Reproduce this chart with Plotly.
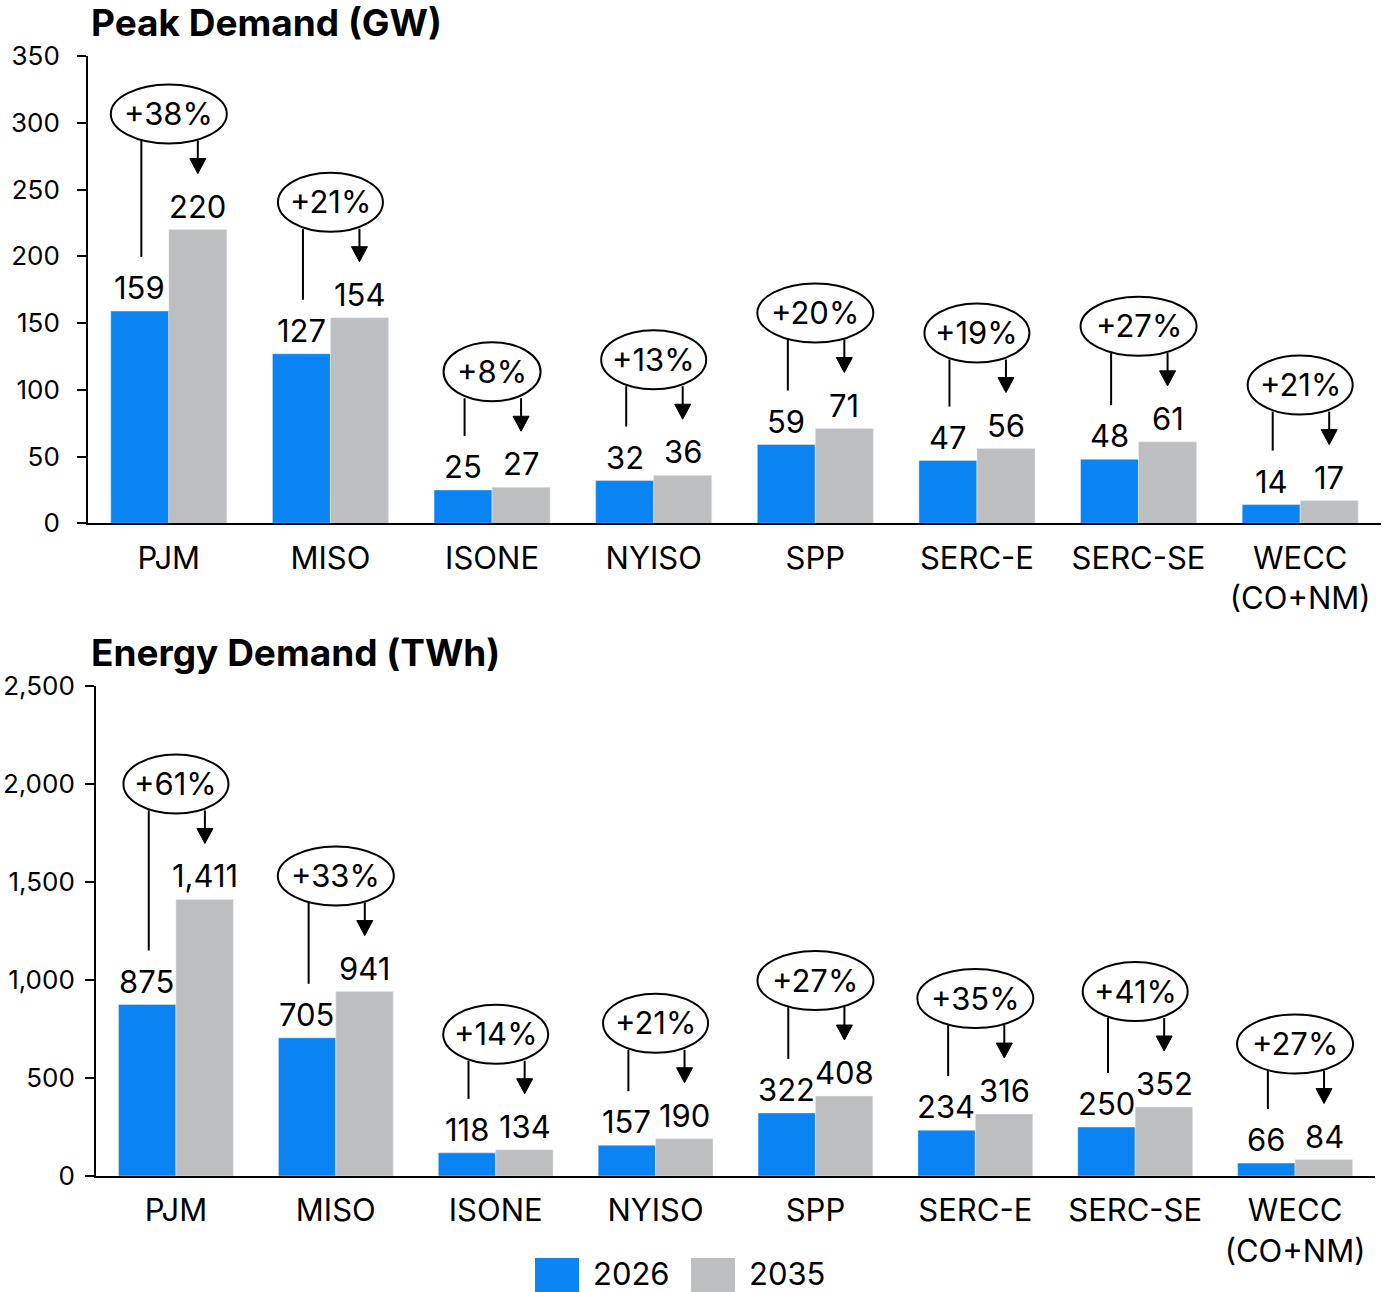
import plotly.graph_objects as go

# ---------------- data ----------------
regions = ["PJM", "MISO", "ISONE", "NYISO", "SPP", "SERC-E", "SERC-SE", "WECC<br>(CO+NM)"]

peak_2026 = [159, 127, 25, 32, 59, 47, 48, 14]
peak_2035 = [220, 154, 27, 36, 71, 56, 61, 17]
peak_growth = ["+38%", "+21%", "+8%", "+13%", "+20%", "+19%", "+27%", "+21%"]

energy_2026 = [875, 705, 118, 157, 322, 234, 250, 66]
energy_2035 = [1411, 941, 134, 190, 408, 316, 352, 84]
energy_growth = ["+61%", "+33%", "+14%", "+21%", "+27%", "+35%", "+41%", "+27%"]

years = ["2026", "2035"]

# ---------------- styling ----------------
W, H = 1384, 1292
BLUE = "#0A84F2"
GREY = "#BDBEC0"
FONT = "Inter"
LBL = 31


def px(x):
    return x / W


def py(y):
    return 1 - y / H


# panel geometry (pixels)
top = dict(x0=88, x1=1381, y0=56, y1=523.3, rng=350, dt=50, bargap=0.282, standoff=12)
bot = dict(x0=96, x1=1375, y0=686, y1=1176, rng=2500, dt=500, bargap=0.275, standoff=5)

fig = go.Figure()

panels = [
    (top, peak_2026, peak_2035, peak_growth, "x", "y", "Peak Demand (GW)"),
    (bot, energy_2026, energy_2035, energy_growth, "x2", "y2", "Energy Demand (TWh)"),
]

shapes = []
annotations = []


def ellipse_width(t):
    widths = {"+": 19, "%": 27, "1": 8}
    return 32 + sum(widths.get(c, 19) for c in t)


LINE = dict(color="black", width=2)

for p, v26, v35, growth, xa, ya, title in panels:
    fig.add_trace(go.Bar(x=regions, y=v26, name=years[0], marker_color=BLUE,
                         xaxis=xa, yaxis=ya, showlegend=False))
    fig.add_trace(go.Bar(x=regions, y=v35, name=years[1], marker_color=GREY,
                         xaxis=xa, yaxis=ya, showlegend=False))
    k = (p["y1"] - p["y0"]) / p["rng"]  # px per unit
    off = (1 - p["bargap"]) / 4
    for i in range(len(regions)):
        a, b = v26[i], v35[i]
        # value labels
        for val, dx in ((a, -off), (b, off)):
            annotations.append(dict(x=i + dx, y=val, xref=xa, yref=ya, text=f"{val:,}",
                                    showarrow=False, yanchor="bottom", yshift=3,
                                    font=dict(family=FONT, size=LBL, color="black")))
        # ellipse
        w = ellipse_width(growth[i])
        shapes.append(dict(type="circle", xref=xa, yref=ya, xsizemode="pixel", ysizemode="pixel",
                           xanchor=i, yanchor=b, x0=-w / 2, x1=w / 2, y0=86, y1=145,
                           line=LINE, fillcolor="white", layer="above"))
        annotations.append(dict(x=i, y=b, xref=xa, yref=ya, text=growth[i], showarrow=False,
                                yanchor="middle", yshift=116,
                                font=dict(family=FONT, size=LBL, color="black")))
        # left line
        shapes.append(dict(type="line", xref=xa, yref=ya, x0=i - 0.17, x1=i - 0.17,
                           y0=a + 54 / k, y1=b + 89 / k, line=LINE, layer="below"))
        # arrow to 2035 value: shaft + head
        shapes.append(dict(type="line", xref=xa, yref=ya, x0=i + off, x1=i + off,
                           y0=b + 70 / k, y1=b + 89 / k, line=LINE, layer="below"))
        shapes.append(dict(type="path", xref=xa, yref=ya, xsizemode="pixel", ysizemode="pixel",
                           xanchor=i + off, yanchor=b, path="M -8 71 L 8 71 L 0 56 Z",
                           fillcolor="black", line=dict(color="black", width=1)))
    # title
    annotations.append(dict(x=px(89), y=py(p["y0"] - 33), xref="paper", yref="paper",
                            text="<b>" + title + "</b>", showarrow=False,
                            xanchor="left", yanchor="middle",
                            font=dict(family=FONT, size=37, color="black")))

# legend drawn manually
for x0, col, lab in ((535, BLUE, years[0]), (691, GREY, years[1])):
    shapes.append(dict(type="rect", xref="paper", yref="paper", x0=px(x0), x1=px(x0 + 44),
                       y0=py(1292), y1=py(1258), fillcolor=col, line=dict(width=0)))
    annotations.append(dict(x=px(x0 + 56), y=py(1273), xref="paper", yref="paper", text=lab,
                            showarrow=False, xanchor="left", yanchor="middle",
                            font=dict(family=FONT, size=31, color="black")))


def xaxis(p, anchor):
    return dict(domain=[px(p["x0"]), px(p["x1"])], anchor=anchor, type="category",
                showline=True, linecolor="black", linewidth=2, ticks="", showgrid=False,
                tickfont=dict(family=FONT, size=31, color="black"), ticklabelstandoff=6,
                zeroline=False, automargin=False)


def yaxis(p, anchor, fmt):
    return dict(domain=[py(p["y1"]), py(p["y0"])], anchor=anchor, range=[0, p["rng"]],
                dtick=p["dt"], tick0=0, showline=True, linecolor="black", linewidth=2,
                ticks="outside", ticklen=9, tickwidth=2, tickcolor="black", showgrid=False,
                zeroline=False, tickformat=fmt, ticklabelstandoff=p["standoff"], automargin=False,
                tickfont=dict(family=FONT, size=26, color="black"))


fig.update_layout(
    width=W, height=H, margin=dict(l=0, r=0, t=0, b=0, pad=0, autoexpand=False),
    paper_bgcolor="white", plot_bgcolor="white",
    barmode="group", bargap=top["bargap"], bargroupgap=0,
    xaxis=xaxis(top, "y"), yaxis=yaxis(top, "x", "d"),
    xaxis2=xaxis(bot, "y2"), yaxis2=yaxis(bot, "x2", ","),
    shapes=shapes, annotations=annotations, showlegend=False,
    font=dict(family=FONT, color="black"),
)
fig.update_traces(cliponaxis=False)

fig.write_html("out.html", config={"displayModeBar": False},
               post_script="document.body.style.margin='0';document.body.style.overflow='hidden';")
